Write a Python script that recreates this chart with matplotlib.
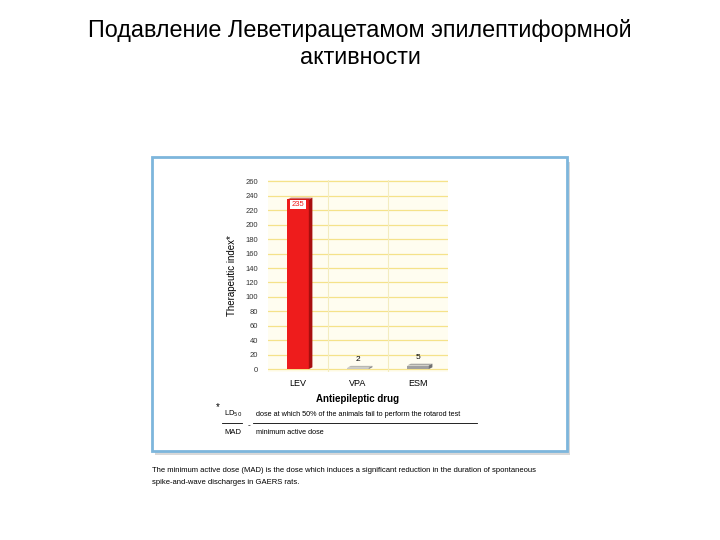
import matplotlib.pyplot as plt
from matplotlib.patches import Rectangle, Polygon
import numpy as np

plt.rcParams['font.family'] = ['Liberation Sans', 'DejaVu Sans']

drugs = ['LEV', 'VPA', 'ESM']
index_vals = [235, 2, 5]
value_labels = ['235', '2', '5']
yticks = list(range(0, 261, 20))

W, H = 720, 540
fig = plt.figure(figsize=(7.2, 5.4), dpi=100)
fig.patch.set_facecolor('white')

def fx(px):
    return px / W

def fy(py):
    return 1 - py / H

# title
fig.text(0.5, fy(31), 'Подавление Леветирацетамом эпилептиформной', ha='center', va='center', fontsize=16.8)
fig.text(0.5, fy(58), 'активности', ha='center', va='center', fontsize=16.8)

# panel shadow + frame (behind the axes)
fig.patches.append(Rectangle((fx(155), fy(455)), fx(415), 293 / H, transform=fig.transFigure,
                             facecolor='#d8d8d8', edgecolor='none', zorder=-2))
fig.patches.append(Rectangle((fx(152), fy(451)), fx(415), 294 / H, transform=fig.transFigure,
                             facecolor='white', edgecolor='#7db6dc', linewidth=2, zorder=-1))

ax = fig.add_axes([fx(268), fy(372), fx(180), 192 / H])
ax.set_zorder(2)
ax.set_facecolor('#fffdf0')
x = np.arange(len(drugs))
colors = ['#ee1c1c', '#c8c8c8', '#a0a0a0']
side = ['#a80e0e', '#8a8a8a', '#707070']
bw = 0.36
dx, dy = 0.06, 2.5
for i, v in enumerate(index_vals):
    ax.bar(x[i], v, width=bw, color=colors[i], edgecolor='none', zorder=3)
    ax.add_patch(Polygon([(x[i] + bw / 2, 0), (x[i] + bw / 2 + dx, dy),
                          (x[i] + bw / 2 + dx, v + dy), (x[i] + bw / 2, v)],
                         closed=True, facecolor=side[i], edgecolor='none', zorder=3))
    ax.add_patch(Polygon([(x[i] - bw / 2, v), (x[i] - bw / 2 + dx, v + dy),
                          (x[i] + bw / 2 + dx, v + dy), (x[i] + bw / 2, v)],
                         closed=True, facecolor=side[i], edgecolor='none', zorder=3, alpha=0.6))

ax.text(x[0], index_vals[0] - 7, value_labels[0], ha='center', va='center', fontsize=5.5,
        color='#ee1c1c', bbox=dict(boxstyle='square,pad=0.15', facecolor='white', edgecolor='none'), zorder=4)
for i in (1, 2):
    ax.text(x[i], index_vals[i] + 6, value_labels[i], ha='center', va='bottom', fontsize=6, zorder=4)

ax.set_xlim(-0.5, 2.5)
ax.set_ylim(-4, 262)
ax.set_yticks(yticks)
ax.set_yticklabels([str(t) for t in yticks], fontsize=5.5, color='#333333')
ax.set_xticks(x)
ax.set_xticklabels(drugs, fontsize=6.5)
ax.tick_params(axis='x', length=0, pad=5)
ax.tick_params(axis='y', length=0, pad=7)
ax.set_axisbelow(True)
ax.grid(axis='y', color='#f5e28a', linewidth=0.9)
for gx in (0.5, 1.5):
    ax.axvline(gx, color='#f3ecc0', linewidth=0.8, zorder=1)
for s in ax.spines.values():
    s.set_visible(False)
ax.set_xlabel('Antiepileptic drug', fontsize=7, fontweight='bold', labelpad=4)
ax.set_ylabel('Therapeutic index*', fontsize=7, labelpad=6)

# formula footnote
fig.text(fx(216), fy(410), '*', fontsize=7)
fig.text(fx(224), fy(414), 'LD$_{50}$', fontsize=5.5, va='center')
fig.text(fx(224), fy(432), 'MAD', fontsize=5.5, va='center')
fig.text(fx(248), fy(426), '-', fontsize=6, va='center')
fig.text(fx(256), fy(414), 'dose at which 50% of the animals fail to perform the rotarod test', fontsize=5.2, va='center')
fig.text(fx(256), fy(433), 'minimum active dose', fontsize=5.2, va='center')
fig.lines.append(plt.Line2D([fx(222), fx(242)], [fy(423), fy(423)], transform=fig.transFigure, color='black', linewidth=0.6))
fig.lines.append(plt.Line2D([fx(253), fx(477)], [fy(423), fy(423)], transform=fig.transFigure, color='black', linewidth=0.6))

fig.text(fx(152), fy(471), 'The minimum active dose (MAD) is the dose which induces a significant reduction in the duration of spontaneous',
         fontsize=5.5, va='center')
fig.text(fx(152), fy(483), 'spike-and-wave discharges in GAERS rats.', fontsize=5.5, va='center')

fig.savefig('out.png', dpi=100)
